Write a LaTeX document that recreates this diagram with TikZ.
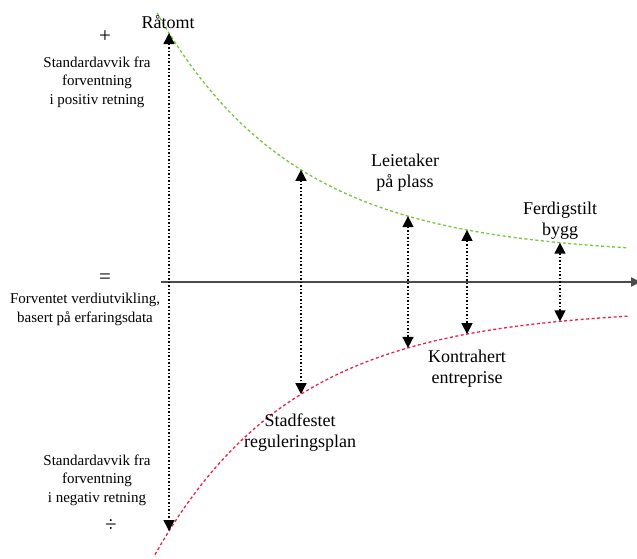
\documentclass[tikz,border=0pt]{standalone}
\usepackage{fontspec}
\setmainfont{Liberation Serif}
\usetikzlibrary{arrows.meta}
\definecolor{oppgreen}{RGB}{122,196,60}
\definecolor{nedred}{RGB}{236,32,72}
\begin{document}
\begin{tikzpicture}[x=1pt, y=-1pt,
    declare function={avvik(\t) = 26 + 223*exp(-0.0072*(\t-169));},
    tekst/.style={align=center, font=\fontsize{15}{18.5}\selectfont, inner sep=0pt, anchor=base},
    fase/.style={align=center, font=\fontsize{18}{21}\selectfont, inner sep=0pt, anchor=base},
    tegn/.style={font=\fontsize{21}{21}\selectfont, inner sep=0pt},
    kurve/.style={line width=1.3pt, dash pattern=on 3pt off 2.5pt},
    spenn/.style={dotted, line width=1.5pt,
        {Triangle[length=11pt,width=11pt]}-{Triangle[length=11pt,width=11pt]}}]

    \useasboundingbox (0,0) rectangle (637,558);

    % x-akse
    \coordinate (start) at (161,282);
    \coordinate (slutt) at (641,282);
    \draw[line width=1.8pt, black!70, -{Triangle[length=10pt,width=9pt]}] (start) -- (slutt);

    % standardavvik over og under forventet verdi
    \draw[domain=157:628, smooth, samples=80, variable=\x, oppgreen, kurve]
        plot ({\x},{282-avvik(\x)});
    \draw[domain=155:628, smooth, samples=80, variable=\x, nedred, kurve]
        plot ({\x},{282+avvik(\x)});

    \foreach \x/\navn in {169/ra,301/st,408/le,467/ko,560/fe}{
        \coordinate (opp\navn) at (\x,{282-avvik(\x)});
        \coordinate (ned\navn) at (\x,{282+avvik(\x)});
        \draw[spenn] (opp\navn) -- (ned\navn);
    }

    % venstre side (base = siste linje)
    \node[tegn] (pluss) at (105,37) {+};
    \node[tekst] (posvikt) at (97,104) {Standardavvik fra\\forventning\\i positiv retning};
    \node[tegn] (lik) at (105,279) {=};
    \node[tekst] (forventet) at (85,322) {Forventet verdiutvikling,\\basert på erfaringsdata};
    \node[tekst] (negvikt) at (97,502) {Standardavvik fra\\forventning\\i negativ retning};
    \node[tegn] (minus) at (111,526) {÷};

    % faser
    \node[fase] (ratomt) at (168,28) {Råtomt};
    \node[fase] (leietaker) at (405,187) {Leietaker\\på plass};
    \node[fase] (ferdig) at (560,235) {Ferdigstilt\\bygg};
    \node[fase] (kontrahert) at (467,383) {Kontrahert\\entreprise};
    \node[fase] (stadfestet) at (300,447) {Stadfestet\\reguleringsplan};
\end{tikzpicture}
\end{document}
